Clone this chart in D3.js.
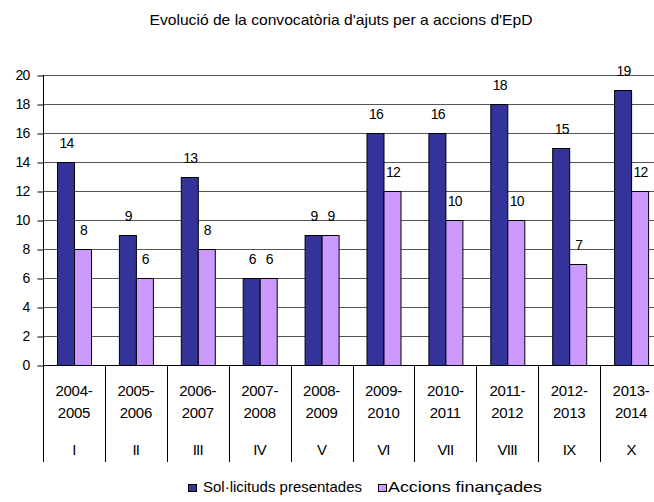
<!DOCTYPE html>
<html>
<head>
<meta charset="utf-8">
<script src="https://cdn.jsdelivr.net/npm/d3@7"></script>
<style>
  body { margin: 0; background: #fff; }
  svg { display: block; font-family: "Liberation Sans", Arial, sans-serif; }
</style>
</head>
<body>
<svg id="chart" width="654" height="502"></svg>
<script>
// Convocatòries d'ajuts per a accions d'EpD, per curs
const periods = ["2004-2005", "2005-2006", "2006-2007", "2007-2008", "2008-2009",
                 "2009-2010", "2010-2011", "2011-2012", "2012-2013", "2013-2014"];
const editions = ["I", "II", "III", "IV", "V", "VI", "VII", "VIII", "IX", "X"];
const solLicituds = [14, 9, 13, 6, 9, 16, 16, 18, 15, 19];
const accionsFinancades = [8, 6, 8, 6, 9, 12, 10, 10, 7, 12];
const seriesNames = ["Sol·licituds presentades", "Accions finançades"];
const seriesColors = ["#333399", "#CC99FF"];
const yTicks = [0, 2, 4, 6, 8, 10, 12, 14, 16, 18, 20];

const svg = d3.select("#chart");
const plotLeft = 43, plotRight = 662, plotTop = 75, plotBottom = 365, axisFoot = 462;

const x = d3.scaleBand().domain(periods).range([plotLeft, plotRight]).paddingInner(0).paddingOuter(0);
const bw = x.bandwidth();
const xs = d3.scaleBand().domain(seriesNames).range([bw / 2 - 17, bw / 2 + 17]);
const y = d3.scaleLinear().domain([0, 20]).range([plotBottom, plotTop]);

// Title
svg.append("text")
  .attr("x", 341).attr("y", 25)
  .attr("text-anchor", "middle")
  .attr("font-size", 15)
  .attr("textLength", 383).attr("lengthAdjust", "spacingAndGlyphs")
  .attr("fill", "#000")
  .text("Evolució de la convocatòria d'ajuts per a accions d'EpD");

// Gridlines
svg.append("g").selectAll("line")
  .data(yTicks.filter(d => d > 0))
  .join("line")
  .attr("x1", plotLeft).attr("x2", plotRight)
  .attr("y1", d => Math.round(y(d)) + 0.5).attr("y2", d => Math.round(y(d)) + 0.5)
  .attr("stroke", "#555").attr("stroke-width", 1);

// Y axis
const yAxis = d3.axisLeft(y).tickValues(yTicks).tickSize(6).tickSizeOuter(0).tickPadding(8);
const gy = svg.append("g").attr("transform", `translate(${plotLeft + 0.5},0.5)`).call(yAxis);
gy.select(".domain").remove();
gy.selectAll(".tick line").attr("stroke", "#000");
gy.selectAll(".tick text")
  .attr("font-size", 14).attr("letter-spacing", -0.8)
  .attr("font-family", "Liberation Sans, Arial, sans-serif")
  .attr("fill", "#000");

// Left vertical axis line, from top to the foot of category labels
svg.append("line")
  .attr("x1", plotLeft + 0.5).attr("x2", plotLeft + 0.5)
  .attr("y1", plotTop).attr("y2", axisFoot)
  .attr("stroke", "#000");

// Baseline
svg.append("line")
  .attr("x1", plotLeft).attr("x2", plotRight)
  .attr("y1", plotBottom + 0.5).attr("y2", plotBottom + 0.5)
  .attr("stroke", "#000");

// Category dividers
svg.append("g").selectAll("line")
  .data(periods.slice(1))
  .join("line")
  .attr("x1", d => Math.round(x(d)) + 0.5).attr("x2", d => Math.round(x(d)) + 0.5)
  .attr("y1", plotBottom).attr("y2", axisFoot)
  .attr("stroke", "#000");

// Bars
const rows = periods.map((p, i) => ({ period: p, values: [solLicituds[i], accionsFinancades[i]] }));
const groups = svg.append("g").selectAll("g")
  .data(rows)
  .join("g")
  .attr("transform", d => `translate(${x(d.period)},0)`);

groups.selectAll("rect")
  .data(d => d.values.map((v, k) => ({ name: seriesNames[k], value: v, k })))
  .join("rect")
  .attr("x", d => Math.round(xs(d.name)) + 0.5)
  .attr("y", d => Math.round(y(d.value)) + 0.5)
  .attr("width", xs.bandwidth())
  .attr("height", d => Math.round(y(0)) - Math.round(y(d.value)))
  .attr("fill", d => seriesColors[d.k])
  .attr("stroke", "#000").attr("stroke-width", 1);

groups.selectAll("text.val")
  .data(d => d.values.map((v, k) => ({ name: seriesNames[k], value: v, k })))
  .join("text")
  .attr("class", "val")
  .attr("x", d => xs(d.name) + xs.bandwidth() / 2 + 1)
  .attr("y", d => y(d.value) - 14)
  .attr("text-anchor", "middle")
  .attr("font-size", 14).attr("letter-spacing", -0.8)
  .attr("fill", "#000")
  .text(d => d.value);

// Category labels: period on two lines, edition number below
const cat = svg.append("g").selectAll("g")
  .data(periods.map((p, i) => ({ p, ed: editions[i] })))
  .join("g")
  .attr("transform", d => `translate(${x(d.p) + bw / 2},0)`);

cat.append("text")
  .attr("y", 396).attr("text-anchor", "middle")
  .attr("font-size", 15).attr("letter-spacing", -0.3)
  .text(d => d.p.split("-")[0] + "-");
cat.append("text")
  .attr("y", 418).attr("text-anchor", "middle")
  .attr("font-size", 15).attr("letter-spacing", -0.3)
  .text(d => d.p.split("-")[1]);
cat.append("text")
  .attr("y", 455).attr("text-anchor", "middle")
  .attr("font-size", 15).attr("letter-spacing", -0.8)
  .text(d => d.ed);

// Legend
const legendItems = [
  { name: seriesNames[0], color: seriesColors[0], sx: 188, tx: 203, tw: 159 },
  { name: seriesNames[1], color: seriesColors[1], sx: 378, tx: 388, tw: 154 }
];
const lg = svg.append("g").selectAll("g").data(legendItems).join("g");
lg.append("rect")
  .attr("x", d => d.sx + 0.5).attr("y", 484.5)
  .attr("width", 8).attr("height", 7)
  .attr("fill", d => d.color).attr("stroke", "#000");
lg.append("text")
  .attr("x", d => d.tx).attr("y", 492)
  .attr("font-size", 15)
  .attr("textLength", d => d.tw).attr("lengthAdjust", "spacingAndGlyphs")
  .text(d => d.name);
</script>
</body>
</html>
